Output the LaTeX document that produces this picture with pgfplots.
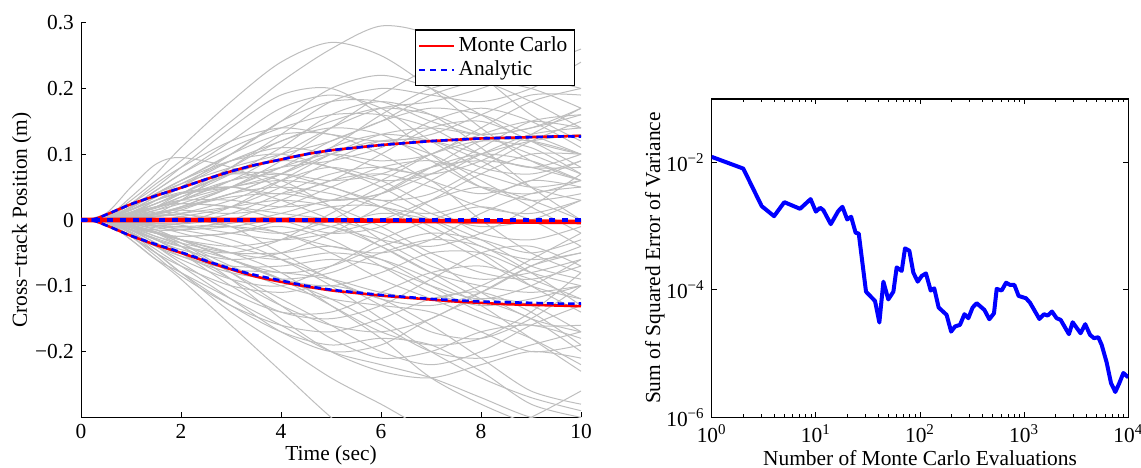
\documentclass[border=0pt]{standalone}
\usepackage{fontspec}
\setmainfont{Liberation Serif}
\usepackage{pgfplots}
\pgfplotsset{compat=1.18}
\definecolor{pathgray}{RGB}{190,190,190}
\definecolor{mcred}{RGB}{255,0,0}
\definecolor{anblue}{RGB}{0,0,255}
\newcommand{\fs}{\fontsize{10.7}{12.8}\selectfont}
\newcommand{\gp}[1]{\addplot[pathgray, line width=0.5pt, smooth, forget plot] coordinates {#1};}
\begin{document}
\begin{tikzpicture}
\begin{axis}[
  at={(40.5pt,24.85pt)}, anchor=south west, scale only axis,
  width=250pt, height=197.3pt,
  xmin=0, xmax=10, ymin=-0.3, ymax=0.3,
  axis x line*=bottom, axis y line*=left,
  axis line style={-, black, line width=0.5pt},
  tick align=inside, major tick length=2.5pt,
  tick style={black, line width=0.5pt},
  xtick={0,2,4,6,8,10}, xticklabels={0,2,4,6,8,10},
  ytick={-0.2,-0.1,0,0.1,0.2,0.3},
  yticklabels={−0.2,−0.1,0,0.1,0.2,0.3},
  tick label style={font=\fs},
  label style={font=\fs},
  xlabel={Time (sec)}, xlabel shift=-3.5pt,
  ylabel={Cross−track Position (m)}, ylabel shift=-5pt,
  legend style={font=\fs, at={(1,1)}, anchor=north east, xshift=-3pt, yshift=-3.3pt,
    draw=black, line width=0.6pt, inner sep=1.5pt, row sep=-1pt},
  legend cell align=left,
  clip=true,
]
\addlegendimage{mcred, line width=1pt}
\addlegendentry{Monte Carlo}
\addlegendimage{anblue, line width=1pt, dash pattern=on 3pt off 2.5pt}
\addlegendentry{Analytic}
% sample paths
\gp{(0,0)(0.5,0.004)(1,0.03)(1.5,0.06)(2,0.09)(3,0.15)(4,0.21)(5,0.26)(6,0.295)(7,0.28)(8,0.22)(9,0.16)(10,0.12)}
\gp{(0,0)(0.5,0.004)(1,0.035)(1.5,0.07)(2,0.11)(3,0.18)(4,0.24)(5,0.27)(6,0.25)(7,0.2)(8,0.14)(9,0.09)(10,0.06)}
\gp{(0,0)(0.5,0.002)(1,0.01)(1.5,0.02)(2,0.03)(3,0.06)(4,0.1)(5,0.14)(6,0.17)(7,0.18)(8,0.2)(9,0.23)(10,0.26)}
\gp{(0,0)(0.5,0.003)(1,0.02)(1.5,0.045)(2,0.07)(3,0.12)(4,0.17)(5,0.19)(6,0.17)(7,0.12)(8,0.08)(9,0.07)(10,0.09)}
\gp{(0,0)(0.5,-0.002)(1,0.0)(1.5,0.01)(2,0.03)(3,0.08)(4,0.13)(5,0.18)(6,0.2)(7,0.19)(8,0.18)(9,0.2)(10,0.24)}
\gp{(0,0)(0.5,0.01)(1,0.05)(1.5,0.085)(2,0.095)(3,0.08)(4,0.05)(5,0.03)(6,0.04)(7,0.07)(8,0.1)(9,0.12)(10,0.13)}
\gp{(0,0)(0.5,0.002)(1,0.02)(1.5,0.04)(2,0.06)(3,0.1)(4,0.15)(5,0.2)(6,0.22)(7,0.2)(8,0.16)(9,0.12)(10,0.1)}
\gp{(0,0)(0.5,0.003)(1,0.025)(1.5,0.05)(2,0.08)(3,0.14)(4,0.19)(5,0.2)(6,0.16)(7,0.1)(8,0.05)(9,0.03)(10,0.04)}
\gp{(0,0)(0.5,0.001)(1,0.01)(1.5,0.03)(2,0.05)(3,0.09)(4,0.12)(5,0.15)(6,0.17)(7,0.16)(8,0.13)(9,0.1)(10,0.07)}
\gp{(0,0)(0.5,0.002)(1,0.015)(1.5,0.035)(2,0.055)(3,0.09)(4,0.11)(5,0.1)(6,0.08)(7,0.07)(8,0.09)(9,0.13)(10,0.17)}
\gp{(0,0)(0.5,0.001)(1,0.005)(1.5,0.015)(2,0.03)(3,0.06)(4,0.08)(5,0.09)(6,0.11)(7,0.15)(8,0.17)(9,0.15)(10,0.11)}
\gp{(0,0)(0.5,-0.001)(1,0.005)(1.5,0.02)(2,0.04)(3,0.07)(4,0.07)(5,0.05)(6,0.03)(7,0.04)(8,0.08)(9,0.12)(10,0.15)}
\gp{(0,0)(0.5,0.002)(1,0.012)(1.5,0.025)(2,0.04)(3,0.05)(4,0.04)(5,0.06)(6,0.1)(7,0.14)(8,0.15)(9,0.12)(10,0.08)}
\gp{(0,0)(0.5,0.001)(1,0.008)(1.5,0.02)(2,0.03)(3,0.03)(4,0.02)(5,0.03)(6,0.06)(7,0.1)(8,0.13)(9,0.15)(10,0.14)}
\gp{(0,0)(0.5,0.0)(1,0.004)(1.5,0.01)(2,0.02)(3,0.04)(4,0.07)(5,0.11)(6,0.13)(7,0.12)(8,0.09)(9,0.05)(10,0.03)}
\gp{(0,0)(0.5,0.002)(1,0.01)(1.5,0.02)(2,0.025)(3,0.02)(4,0.0)(5,-0.02)(6,-0.01)(7,0.03)(8,0.07)(9,0.1)(10,0.1)}
\gp{(0,0)(0.5,0.001)(1,0.006)(1.5,0.012)(2,0.015)(3,0.01)(4,0.02)(5,0.05)(6,0.08)(7,0.09)(8,0.07)(9,0.05)(10,0.06)}
\gp{(0,0)(0.5,0.0)(1,0.002)(1.5,0.005)(2,0.01)(3,0.03)(4,0.06)(5,0.08)(6,0.06)(7,0.02)(8,-0.02)(9,-0.03)(10,-0.01)}
\gp{(0,0)(0.5,-0.001)(1,0.0)(1.5,0.005)(2,0.015)(3,0.04)(4,0.05)(5,0.04)(6,0.02)(7,0.01)(8,0.03)(9,0.06)(10,0.05)}
\gp{(0,0)(0.5,0.001)(1,0.005)(1.5,0.008)(2,0.005)(3,-0.01)(4,-0.02)(5,0.0)(6,0.04)(7,0.08)(8,0.1)(9,0.09)(10,0.06)}
\gp{(0,0)(0.5,0.0)(1,0.003)(1.5,0.006)(2,0.01)(3,0.02)(4,0.03)(5,0.02)(6,-0.01)(7,-0.05)(8,-0.08)(9,-0.09)(10,-0.07)}
\gp{(0,0)(0.5,-0.001)(1,-0.002)(1.5,0.0)(2,0.005)(3,0.02)(4,0.05)(5,0.09)(6,0.12)(7,0.12)(8,0.1)(9,0.08)(10,0.1)}
\gp{(0,0)(0.5,0.001)(1,0.004)(1.5,0.006)(2,0.008)(3,0.0)(4,-0.02)(5,-0.04)(6,-0.05)(7,-0.03)(8,0.01)(9,0.04)(10,0.05)}
\gp{(0,0)(0.5,-0.001)(1,-0.004)(1.5,-0.008)(2,-0.01)(3,-0.005)(4,0.01)(5,0.03)(6,0.03)(7,0.0)(8,-0.04)(9,-0.06)(10,-0.05)}
\gp{(0,0)(0.5,0.0)(1,-0.002)(1.5,-0.005)(2,-0.008)(3,-0.02)(4,-0.03)(5,-0.02)(6,0.0)(7,0.03)(8,0.05)(9,0.03)(10,0.0)}
\gp{(0,0)(0.5,-0.004)(1,-0.03)(1.5,-0.06)(2,-0.09)(3,-0.16)(4,-0.23)(5,-0.3)(6,-0.36)(7,-0.38)(8,-0.36)(9,-0.33)(10,-0.3)}
\gp{(0,0)(0.5,-0.003)(1,-0.025)(1.5,-0.05)(2,-0.08)(3,-0.14)(4,-0.19)(5,-0.24)(6,-0.28)(7,-0.32)(8,-0.33)(9,-0.3)(10,-0.26)}
\gp{(0,0)(0.5,-0.003)(1,-0.03)(1.5,-0.06)(2,-0.08)(3,-0.12)(4,-0.16)(5,-0.2)(6,-0.22)(7,-0.24)(8,-0.27)(9,-0.3)(10,-0.31)}
\gp{(0,0)(0.5,-0.002)(1,-0.02)(1.5,-0.045)(2,-0.07)(3,-0.12)(4,-0.17)(5,-0.2)(6,-0.19)(7,-0.15)(8,-0.12)(9,-0.13)(10,-0.17)}
\gp{(0,0)(0.5,-0.003)(1,-0.025)(1.5,-0.05)(2,-0.07)(3,-0.1)(4,-0.11)(5,-0.1)(6,-0.12)(7,-0.16)(8,-0.21)(9,-0.26)(10,-0.28)}
\gp{(0,0)(0.5,-0.002)(1,-0.015)(1.5,-0.03)(2,-0.05)(3,-0.09)(4,-0.13)(5,-0.16)(6,-0.17)(7,-0.15)(8,-0.11)(9,-0.07)(10,-0.05)}
\gp{(0,0)(0.5,-0.001)(1,-0.01)(1.5,-0.025)(2,-0.04)(3,-0.08)(4,-0.12)(5,-0.16)(6,-0.2)(7,-0.22)(8,-0.2)(9,-0.16)(10,-0.13)}
\gp{(0,0)(0.5,-0.002)(1,-0.015)(1.5,-0.035)(2,-0.055)(3,-0.08)(4,-0.09)(5,-0.08)(6,-0.05)(7,-0.03)(8,-0.04)(9,-0.08)(10,-0.13)}
\gp{(0,0)(0.5,-0.001)(1,-0.008)(1.5,-0.02)(2,-0.035)(3,-0.07)(4,-0.1)(5,-0.12)(6,-0.13)(7,-0.14)(8,-0.17)(9,-0.2)(10,-0.19)}
\gp{(0,0)(0.5,-0.001)(1,-0.005)(1.5,-0.015)(2,-0.03)(3,-0.06)(4,-0.09)(5,-0.1)(6,-0.08)(7,-0.05)(8,-0.05)(9,-0.08)(10,-0.1)}
\gp{(0,0)(0.5,0.0)(1,-0.004)(1.5,-0.01)(2,-0.02)(3,-0.04)(4,-0.06)(5,-0.09)(6,-0.13)(7,-0.17)(8,-0.18)(9,-0.15)(10,-0.1)}
\gp{(0,0)(0.5,-0.002)(1,-0.012)(1.5,-0.025)(2,-0.035)(3,-0.05)(4,-0.05)(5,-0.04)(6,-0.06)(7,-0.1)(8,-0.14)(9,-0.16)(10,-0.16)}
\gp{(0,0)(0.5,-0.001)(1,-0.006)(1.5,-0.012)(2,-0.015)(3,-0.01)(4,0.0)(5,-0.01)(6,-0.04)(7,-0.08)(8,-0.12)(9,-0.15)(10,-0.2)}
\gp{(0,0)(0.5,-0.001)(1,-0.01)(1.5,-0.02)(2,-0.03)(3,-0.04)(4,-0.03)(5,-0.01)(6,0.01)(7,0.0)(8,-0.03)(9,-0.07)(10,-0.09)}
\gp{(0,0)(0.5,0.0)(1,-0.003)(1.5,-0.008)(2,-0.015)(3,-0.03)(4,-0.06)(5,-0.1)(6,-0.15)(7,-0.2)(8,-0.24)(9,-0.27)(10,-0.29)}
\gp{(0,0)(0.5,-0.002)(1,-0.012)(1.5,-0.02)(2,-0.025)(3,-0.02)(4,0.0)(5,0.02)(6,0.02)(7,-0.01)(8,-0.05)(9,-0.1)(10,-0.14)}
\gp{(0,0)(0.5,-0.001)(1,-0.008)(1.5,-0.018)(2,-0.03)(3,-0.06)(4,-0.08)(5,-0.07)(6,-0.04)(7,-0.02)(8,-0.03)(9,-0.05)(10,-0.03)}
\gp{(0,0)(0.5,-0.002)(1,-0.018)(1.5,-0.04)(2,-0.065)(3,-0.11)(4,-0.14)(5,-0.14)(6,-0.11)(7,-0.08)(8,-0.07)(9,-0.09)(10,-0.12)}
\gp{(0,0)(0.5,-0.003)(1,-0.02)(1.5,-0.04)(2,-0.06)(3,-0.09)(4,-0.1)(5,-0.07)(6,-0.03)(7,0.0)(8,0.02)(9,0.0)(10,-0.04)}
\gp{(0,0)(0.5,-0.001)(1,-0.01)(1.5,-0.02)(2,-0.03)(3,-0.05)(4,-0.08)(5,-0.13)(6,-0.18)(7,-0.24)(8,-0.28)(9,-0.31)(10,-0.32)}
\gp{(0,0)(0.5,0.001)(1,0.008)(1.5,0.018)(2,0.03)(3,0.05)(4,0.06)(5,0.05)(6,0.02)(7,-0.02)(8,-0.06)(9,-0.1)(10,-0.12)}
\gp{(0,0)(0.5,0.002)(1,0.016)(1.5,0.035)(2,0.05)(3,0.07)(4,0.06)(5,0.02)(6,-0.03)(7,-0.07)(8,-0.09)(9,-0.08)(10,-0.06)}
\gp{(0,0)(0.5,0.001)(1,0.01)(1.5,0.025)(2,0.04)(3,0.07)(4,0.09)(5,0.08)(6,0.05)(7,0.01)(8,-0.01)(9,0.0)(10,0.03)}
\gp{(0,0)(0.5,-0.001)(1,-0.005)(1.5,-0.008)(2,-0.005)(3,0.02)(4,0.06)(5,0.1)(6,0.13)(7,0.14)(8,0.13)(9,0.14)(10,0.17)}
\gp{(0,0)(0.5,0.002)(1,0.02)(1.5,0.04)(2,0.06)(3,0.1)(4,0.13)(5,0.13)(6,0.1)(7,0.06)(8,0.04)(9,0.06)(10,0.09)}
\gp{(0,0)(0.5,-0.002)(1,-0.015)(1.5,-0.03)(2,-0.04)(3,-0.05)(4,-0.03)(5,0.01)(6,0.05)(7,0.08)(8,0.09)(9,0.08)(10,0.06)}
\gp{(0,0)(0.5,0.001)(1,0.006)(1.5,0.01)(2,0.01)(3,-0.01)(4,-0.05)(5,-0.09)(6,-0.12)(7,-0.13)(8,-0.11)(9,-0.07)(10,-0.04)}
\gp{(0,0)(0.5,0.0)(1,0.003)(1.5,0.01)(2,0.02)(3,0.05)(4,0.09)(5,0.14)(6,0.19)(7,0.23)(8,0.24)(9,0.22)(10,0.2)}
\gp{(0,0)(0.5,-0.002)(1,-0.02)(1.5,-0.05)(2,-0.08)(3,-0.13)(4,-0.17)(5,-0.19)(6,-0.18)(7,-0.19)(8,-0.23)(9,-0.28)(10,-0.3)}
\gp{(0,0)(0.5,0.003)(1,0.02)(1.5,0.04)(2,0.055)(3,0.08)(4,0.1)(5,0.12)(6,0.15)(7,0.17)(8,0.16)(9,0.13)(10,0.1)}
\gp{(0,0)(0.5,-0.003)(1,-0.02)(1.5,-0.04)(2,-0.055)(3,-0.075)(4,-0.08)(5,-0.09)(6,-0.11)(7,-0.12)(8,-0.1)(9,-0.06)(10,-0.02)}
\gp{(0,0)(0.5,0.001)(1,0.012)(1.5,0.03)(2,0.05)(3,0.1)(4,0.15)(5,0.18)(6,0.18)(7,0.15)(8,0.13)(9,0.14)(10,0.16)}
\gp{(0,0)(0.5,-0.001)(1,-0.008)(1.5,-0.02)(2,-0.04)(3,-0.09)(4,-0.15)(5,-0.2)(6,-0.23)(7,-0.24)(8,-0.22)(9,-0.2)(10,-0.21)}
\gp{(0,0)(0.5,0.002)(1,0.015)(1.5,0.03)(2,0.04)(3,0.05)(4,0.07)(5,0.1)(6,0.12)(7,0.1)(8,0.06)(9,0.02)(10,-0.02)}
\gp{(0,0)(0.5,-0.002)(1,-0.01)(1.5,-0.015)(2,-0.015)(3,0.0)(4,0.03)(5,0.06)(6,0.07)(7,0.05)(8,0.02)(9,0.01)(10,0.03)}
\gp{(0,0)(0.5,0.002)(1,0.018)(1.5,0.04)(2,0.06)(3,0.09)(4,0.1)(5,0.08)(6,0.06)(7,0.07)(8,0.11)(9,0.15)(10,0.16)}
\gp{(0,0)(0.5,-0.001)(1,-0.01)(1.5,-0.02)(2,-0.025)(3,-0.02)(4,-0.01)(5,-0.03)(6,-0.07)(7,-0.11)(8,-0.13)(9,-0.12)(10,-0.1)}
\gp{(0,0)(0.5,0.001)(1,0.01)(1.5,0.02)(2,0.035)(3,0.07)(4,0.11)(5,0.16)(6,0.18)(7,0.16)(8,0.11)(9,0.05)(10,0.0)}
\gp{(0,0)(0.5,-0.002)(1,-0.012)(1.5,-0.03)(2,-0.05)(3,-0.1)(4,-0.14)(5,-0.15)(6,-0.13)(7,-0.09)(8,-0.05)(9,-0.04)(10,-0.07)}
\gp{(0,0)(0.5,0.003)(1,0.025)(1.5,0.055)(2,0.08)(3,0.12)(4,0.14)(5,0.13)(6,0.12)(7,0.13)(8,0.16)(9,0.19)(10,0.19)}
\gp{(0,0)(0.5,0.0)(1,-0.003)(1.5,-0.005)(2,-0.005)(3,0.01)(4,0.04)(5,0.07)(6,0.08)(7,0.06)(8,0.0)(9,-0.05)(10,-0.08)}
\gp{(0,0)(0.5,0.001)(1,0.005)(1.5,0.01)(2,0.02)(3,0.05)(4,0.08)(5,0.1)(6,0.09)(7,0.1)(8,0.14)(9,0.18)(10,0.2)}
\gp{(0,0)(0.5,-0.001)(1,-0.006)(1.5,-0.015)(2,-0.03)(3,-0.06)(4,-0.09)(5,-0.12)(6,-0.16)(7,-0.2)(8,-0.21)(9,-0.19)(10,-0.17)}
\gp{(0,0)(0.5,-0.002)(1,-0.015)(1.5,-0.03)(2,-0.045)(3,-0.06)(4,-0.05)(5,-0.02)(6,0.02)(7,0.06)(8,0.1)(9,0.13)(10,0.14)}
\gp{(0,0)(0.5,0.001)(1,0.007)(1.5,0.015)(2,0.025)(3,0.05)(4,0.08)(5,0.12)(6,0.15)(7,0.19)(8,0.21)(9,0.2)(10,0.17)}
\gp{(0,0)(0.5,-0.001)(1,-0.007)(1.5,-0.018)(2,-0.03)(3,-0.05)(4,-0.06)(5,-0.05)(6,-0.06)(7,-0.09)(8,-0.13)(9,-0.18)(10,-0.23)}
\gp{(0,0)(0.5,0.002)(1,0.012)(1.5,0.02)(2,0.025)(3,0.02)(4,0.01)(5,0.0)(6,-0.02)(7,-0.06)(8,-0.11)(9,-0.15)(10,-0.17)}
\gp{(0,0)(0.5,-0.003)(1,-0.025)(1.5,-0.055)(2,-0.085)(3,-0.13)(4,-0.16)(5,-0.17)(6,-0.15)(7,-0.12)(8,-0.11)(9,-0.14)(10,-0.19)}
\gp{(0,0)(0.5,0.001)(1,0.008)(1.5,0.02)(2,0.035)(3,0.06)(4,0.07)(5,0.06)(6,0.07)(7,0.1)(8,0.12)(9,0.11)(10,0.07)}
\gp{(0,0)(0.5,0.0)(1,0.002)(1.5,0.008)(2,0.018)(3,0.04)(4,0.07)(5,0.11)(6,0.16)(7,0.2)(8,0.21)(9,0.18)(10,0.14)}
\gp{(0,0)(0.5,-0.001)(1,-0.004)(1.5,-0.006)(2,-0.006)(3,0.0)(4,0.0)(5,-0.01)(6,-0.03)(7,-0.04)(8,-0.02)(9,0.02)(10,0.07)}
\gp{(0,0)(0.5,0.002)(1,0.016)(1.5,0.03)(2,0.042)(3,0.05)(4,0.03)(5,0.0)(6,-0.04)(7,-0.08)(8,-0.1)(9,-0.11)(10,-0.1)}
\gp{(0,0)(0.5,-0.002)(1,-0.014)(1.5,-0.028)(2,-0.04)(3,-0.06)(4,-0.09)(5,-0.13)(6,-0.17)(7,-0.19)(8,-0.18)(9,-0.14)(10,-0.08)}
\gp{(0,0)(0.5,0.001)(1,0.01)(1.5,0.025)(2,0.04)(3,0.08)(4,0.12)(5,0.14)(6,0.13)(7,0.09)(8,0.05)(9,0.04)(10,0.06)}
\gp{(0,0)(0.5,-0.001)(1,-0.005)(1.5,-0.01)(2,-0.012)(3,-0.01)(4,-0.02)(5,-0.05)(6,-0.09)(7,-0.12)(8,-0.15)(9,-0.18)(10,-0.22)}
\gp{(0,0)(0.5,0.001)(1,0.004)(1.5,0.01)(2,0.018)(3,0.035)(4,0.04)(5,0.03)(6,0.04)(7,0.08)(8,0.12)(9,0.12)(10,0.1)}
\gp{(0,0)(0.5,-0.002)(1,-0.016)(1.5,-0.035)(2,-0.05)(3,-0.07)(4,-0.07)(5,-0.06)(6,-0.07)(7,-0.1)(8,-0.12)(9,-0.1)(10,-0.06)}
\gp{(0,0)(0.5,0.002)(1,0.02)(1.5,0.045)(2,0.07)(3,0.11)(4,0.14)(5,0.16)(6,0.16)(7,0.14)(8,0.1)(9,0.08)(10,0.08)}
\gp{(0,0)(0.5,-0.001)(1,-0.008)(1.5,-0.02)(2,-0.035)(3,-0.08)(4,-0.13)(5,-0.18)(6,-0.21)(7,-0.2)(8,-0.17)(9,-0.16)(10,-0.18)}
% Monte Carlo +/- sigma and mean
\addplot[mcred, line width=1.3pt, smooth, forget plot] coordinates {(0,0)(0.25,0.001)(0.5,0.008)(1,0.024)(1.5,0.037)(2,0.049)(2.5,0.062)(3,0.074)(3.5,0.084)(4,0.092)(4.5,0.1)(5,0.106)(5.5,0.11)(6,0.114)(6.5,0.117)(7,0.12)(7.5,0.122)(8,0.124)(8.5,0.125)(9,0.126)(9.5,0.127)(10,0.128)};
\addplot[mcred, line width=1.3pt, smooth, forget plot] coordinates {(0,0)(0.25,-0.001)(0.5,-0.008)(1,-0.024)(1.5,-0.038)(2,-0.05)(2.5,-0.063)(3,-0.075)(3.5,-0.086)(4,-0.094)(4.5,-0.101)(5,-0.107)(5.5,-0.111)(6,-0.115)(6.5,-0.118)(7,-0.121)(7.5,-0.124)(8,-0.126)(8.5,-0.128)(9,-0.129)(9.5,-0.130)(10,-0.131)};
\addplot[mcred, line width=2.3pt, smooth, forget plot] coordinates {(0,0)(1,0)(2,0)(3,0)(4,0)(5,-0.0005)(6,-0.001)(7,-0.0015)(8,-0.002)(9,-0.0025)(10,-0.003)};
% Analytic
\addplot[anblue, line width=1.3pt, dash pattern=on 3.3pt off 2pt, smooth, forget plot] coordinates {(0,0)(0.25,0.001)(0.5,0.008)(1,0.024)(1.5,0.037)(2,0.049)(2.5,0.062)(3,0.074)(3.5,0.084)(4,0.092)(4.5,0.1)(5,0.106)(5.5,0.11)(6,0.114)(6.5,0.117)(7,0.12)(7.5,0.122)(8,0.124)(8.5,0.125)(9,0.126)(9.5,0.127)(10,0.127)};
\addplot[anblue, line width=1.3pt, dash pattern=on 3.3pt off 2pt, smooth, forget plot] coordinates {(0,0)(0.25,-0.001)(0.5,-0.008)(1,-0.024)(1.5,-0.037)(2,-0.049)(2.5,-0.062)(3,-0.074)(3.5,-0.084)(4,-0.092)(4.5,-0.1)(5,-0.106)(5.5,-0.11)(6,-0.114)(6.5,-0.117)(7,-0.12)(7.5,-0.122)(8,-0.124)(8.5,-0.125)(9,-0.126)(9.5,-0.127)(10,-0.127)};
\addplot[anblue, line width=2.3pt, dash pattern=on 3pt off 3.5pt, forget plot] coordinates {(0,0)(10,0)};
\end{axis}

\begin{axis}[
  at={(355.85pt,24.85pt)}, anchor=south west, scale only axis,
  width=208.3pt, height=159.2pt,
  xmode=log, ymode=log,
  xmin=1, xmax=10000, ymin=1e-6, ymax=1e-1,
  axis line style={black, line width=0.6pt},
  tick align=inside, major tick length=2.5pt, minor tick length=1.5pt,
  tick style={black, line width=0.5pt},
  xtick={1,10,100,1000,10000},
  xticklabels={10\textsuperscript{0},10\textsuperscript{1},10\textsuperscript{2},10\textsuperscript{3},10\textsuperscript{4}},
  ytick={1e-6,1e-4,1e-2},
  yticklabels={10\textsuperscript{−6},10\textsuperscript{−4},10\textsuperscript{−2}},
  yminorticks=false,
  tick label style={font=\fs},
  label style={font=\fs},
  xlabel={Number of Monte Carlo Evaluations}, xlabel shift=-3pt,
  ylabel={Sum of Squared Error of Variance}, ylabel shift=-6pt,
]
\addplot[anblue, line width=2pt, line join=round] coordinates {
(1,0.0123)(2.01,0.00805)(3.02,0.00207)(3.97,0.00144)(4.98,0.00239)(7.05,0.00188)
(8.9,0.00267)(10,0.0017)(11,0.00195)(11.8,0.00179)(13.9,0.00108)(16.4,0.00173)
(18,0.00202)(20,0.00128)(21.8,0.00141)(24.1,0.00079)(25.8,0.00077)(30.3,9.4e-5)
(37,6.7e-5)(40.7,3.08e-5)(44.5,1.35e-4)(49.6,7.1e-5)(55.5,9.4e-5)(59.7,2.26e-4)
(66.7,1.99e-4)(71.8,4.5e-4)(79,4.13e-4)(86.3,1.87e-4)(95,1.35e-4)(104,1.66e-4)
(114,1.82e-4)(126.6,9.8e-5)(137,1.06e-4)(151,5.3e-5)(180,4.06e-5)(199,2.22e-5)
(217,2.67e-5)(242,2.83e-5)(267,4.16e-5)(291,3.6e-5)(320,5.3e-5)(350,6.2e-5)
(415,4.86e-5)(463,3.47e-5)(513,4.3e-5)(545,1.04e-4)(608,9.8e-5)(670,1.3e-4)
(731,1.2e-4)(805,1.2e-4)(885,8.05e-5)(1042,7.4e-5)(1138,6.3e-5)(1400,3.5e-5)
(1550,4.16e-5)(1680,3.96e-5)(1850,4.58e-5)(2050,3.6e-5)(2240,3.39e-5)(2690,2.02e-5)
(2920,3.11e-5)(3480,2.09e-5)(3860,2.9e-5)(4290,1.97e-5)(4680,1.75e-5)(5150,1.81e-5)
(5550,1.37e-5)(6190,7.3e-6)(6820,3.45e-6)(7500,2.5e-6)(8200,3.45e-6)(8960,4.96e-6)
(10000,4.24e-6)};
\end{axis}
\pgfresetboundingbox
\path[use as bounding box] (0,0) rectangle (570.5pt,233.5pt);
\end{tikzpicture}
\end{document}
